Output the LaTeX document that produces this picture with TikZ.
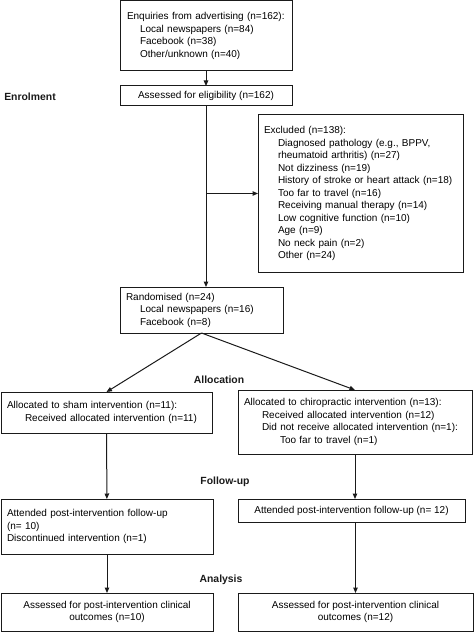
\documentclass[tikz,border=0pt]{standalone}
\usepackage{fontspec}
\setmainfont{Liberation Sans}
\usetikzlibrary{arrows.meta,calc}
\definecolor{ink}{HTML}{1A1A1A}
\tikzset{
  font=\fontsize{10}{12.5}\selectfont,
  box/.style={draw=ink, line width=1pt, fill=white, outer sep=0pt, inner xsep=6pt, inner ysep=3pt, align=left},
  cbox/.style={box, align=center},
  arrow/.style={-{Triangle[length=5.5pt,width=4.5pt]}, line width=1pt, draw=ink},
  phase/.style={font=\fontsize{10.4}{12}\selectfont\bfseries, text=ink}
}
\newcommand{\ind}{\hspace*{14pt}}
\newcommand{\indb}{\hspace*{18pt}}

\begin{document}
\begin{tikzpicture}[x=1pt,y=-1pt]
\useasboundingbox (0,0) rectangle (473,636);

% Enrolment
\node[box, minimum width=172pt, minimum height=70pt, text width=160pt] (enq) at (206,36) {\hspace*{1pt}Enquiries from advertising (n=162):\\\ind Local newspapers (n=84)\\\ind Facebook (n=38)\\\ind Other/unknown (n=40)};
\node[cbox, minimum width=172pt, minimum height=20pt] (assess) at (206,96) {Assessed for eligibility (n=162)};
\node[phase] (enrol) at (30,97) {Enrolment};
\node[box, minimum width=205pt, minimum height=157pt, text width=193pt] (excl) at (360.5,193.5) {Excluded (n=138):\\\ind Diagnosed pathology (e.g., BPPV,\\\ind rheumatoid arthritis) (n=27)\\\ind Not dizziness (n=19)\\\ind History of stroke or heart attack (n=18)\\\ind Too far to travel (n=16)\\\ind Receiving manual therapy (n=14)\\\ind Low cognitive function (n=10)\\\ind Age (n=9)\\\ind No neck pain (n=2)\\\ind Other (n=24)};
\node[box, minimum width=163pt, minimum height=46pt, text width=151pt] (rand) at (201.5,310) {Randomised (n=24)\\\ind Local newspapers (n=16)\\\ind Facebook (n=8)};

\draw[arrow] (enq) -- (assess);
\draw[arrow] (assess.south) -- (assess.south |- rand.north);
\draw[arrow] (assess.south |- excl.west) -- (excl.west);

% Allocation
\node[phase] (alloc) at (219,380) {Allocation};
\node[box, minimum width=211pt, minimum height=41pt, text width=199pt] (sham) at (106.5,412.5) {Allocated to sham intervention (n=11):\\\indb Received allocated intervention (n=11)};
\node[box, minimum width=234pt, minimum height=64pt, text width=222pt] (chiro) at (355,422) {Allocated to chiropractic intervention (n=13):\\\indb Received allocated intervention (n=12)\\\indb Did not receive allocated intervention (n=1):\\\indb\indb Too far to travel (n=1)};

\draw[arrow] (rand.south) -- (sham.north);
\draw[arrow] (rand.south) -- (chiro.north);

% Follow-up
\node[phase] (follow) at (225,482) {Follow-up};
\node[box, minimum width=212pt, minimum height=55pt, text width=200pt] (shamfu) at (107,526.5) {Attended post-intervention follow-up\\(n= 10)\\Discontinued intervention (n=1)};
\node[cbox, minimum width=227pt, minimum height=23pt] (chirofu) at (351.5,510.5) {Attended post-intervention follow-up (n= 12)};

\draw[arrow] (sham) -- (shamfu);
\draw[arrow] (chiro.south) -- (chiro.south |- chirofu.north);

% Analysis
\node[phase] (analysis) at (221,580) {Analysis};
\node[cbox, minimum width=212pt, minimum height=38pt] (shamout) at (107,612) {Assessed for post-intervention clinical\\outcomes (n=10)};
\node[cbox, minimum width=235pt, minimum height=38pt] (chiroout) at (355.5,612) {Assessed for post-intervention clinical\\outcomes (n=12)};

\draw[arrow] (shamfu) -- (shamout);
\draw[arrow] (chirofu.south -| chiroout.north) -- (chiroout.north);

\end{tikzpicture}
\end{document}
